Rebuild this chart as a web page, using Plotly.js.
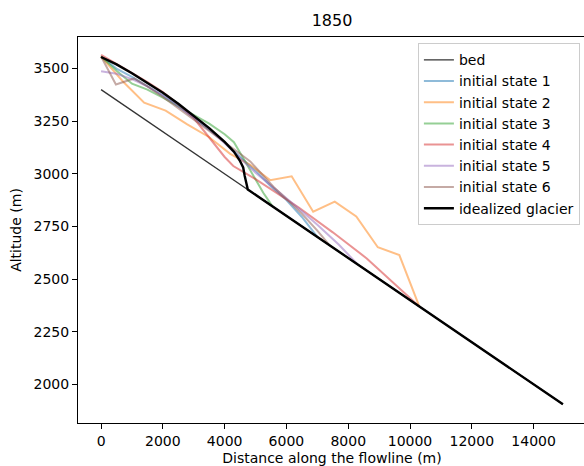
<!DOCTYPE html>
<html>
<head>
<meta charset="utf-8">
<script src="https://cdn.plot.ly/plotly-3.0.1.min.js"></script>
<style>html,body{margin:0;padding:0;overflow:hidden;background:#fff}</style>
</head>
<body>
<div id="chart"></div>
<script>
// Data (distance in m, altitude in m)
const bedX = [0, 14950];
const bedY = [3400, 1905];

const s1X = [0, 500, 1000, 1500, 2000, 2500, 3000, 3500, 4000, 4500, 5000, 5500, 6000, 6500, 7000];
const s1Y = [3557, 3500, 3460, 3418, 3372, 3322, 3268, 3210, 3150, 3080, 3015, 2940, 2875, 2795, 2700];

const s2X = [0, 700, 1394, 2090, 2790, 3490, 4180, 4828, 5472, 6169, 6866, 7564, 8261, 8958, 9655, 10300];
const s2Y = [3557, 3440, 3338, 3300, 3235, 3175, 3095, 3043, 2970, 2988, 2820, 2868, 2797, 2651, 2614, 2370];

const s3X = [0, 500, 1000, 1500, 2000, 2500, 3000, 3500, 4000, 4300, 4600, 5000, 5250, 5550];
const s3Y = [3557, 3490, 3428, 3400, 3362, 3320, 3278, 3238, 3188, 3150, 3075, 2970, 2910, 2845];

const s4X = [0, 500, 1000, 1500, 2000, 2500, 3000, 3540, 4000, 4280, 5000, 6400, 7500, 8600, 9650, 10300];
const s4Y = [3565, 3522, 3480, 3436, 3388, 3330, 3265, 3162, 3080, 3037, 2975, 2840, 2722, 2598, 2457, 2370];

const s5X = [0, 500, 1000, 1500, 2000, 2500, 3000, 3500, 4000, 4500, 5000, 5500, 6000, 6500, 7000, 7700, 8300];
const s5Y = [3487, 3475, 3450, 3415, 3372, 3322, 3268, 3210, 3145, 3075, 3005, 2945, 2885, 2822, 2758, 2663, 2570];

const s6X = [0, 480, 1070, 1500, 2000, 2500, 3000, 3500, 4000, 4500, 4830, 5200, 5600, 6000, 6500, 7000, 7400];
const s6Y = [3557, 3424, 3453, 3415, 3365, 3312, 3258, 3205, 3150, 3095, 3059, 2999, 2935, 2880, 2810, 2730, 2660];

const idX = [0, 500, 1000, 1500, 2000, 2500, 3000, 3500, 4000, 4300, 4500, 4600, 4650, 4700, 4750, 14950];
const idY = [3555, 3520, 3478, 3433, 3385, 3333, 3277, 3217, 3152, 3105, 3060, 3030, 2990, 2950, 2925, 1905];

const names = ['bed', 'initial state 1', 'initial state 2', 'initial state 3',
               'initial state 4', 'initial state 5', 'initial state 6', 'idealized glacier'];

const stateColors = ['rgba(31,119,180,0.5)', 'rgba(255,127,14,0.5)', 'rgba(44,160,44,0.5)',
                     'rgba(214,39,40,0.5)', 'rgba(148,103,189,0.5)', 'rgba(140,86,75,0.5)'];

const states = [[s1X, s1Y], [s2X, s2Y], [s3X, s3Y], [s4X, s4Y], [s5X, s5Y], [s6X, s6Y]];

const traces = [];
traces.push({x: bedX, y: bedY, mode: 'lines', name: names[0],
             line: {color: 'rgba(0,0,0,0.8)', width: 1.3}});
states.forEach((s, i) => {
  traces.push({x: s[0], y: s[1], mode: 'lines', name: names[i + 1],
               line: {color: stateColors[i], width: 2}});
});
traces.push({x: idX, y: idY, mode: 'lines', name: names[7],
             line: {color: '#000000', width: 2.4}});

const font = {family: 'DejaVu Sans, sans-serif', size: 14, color: '#000'};

const layout = {
  width: 600, height: 466,
  margin: {l: 78, r: 14, t: 37, b: 43},
  paper_bgcolor: '#fff', plot_bgcolor: '#fff',
  font: font,
  showlegend: true,
  title: {text: '1850', font: {family: 'DejaVu Sans, sans-serif', size: 16, color: '#000'},
          x: 0.5, xref: 'paper', y: 1 - 20 / 466, yref: 'container', yanchor: 'middle'},
  xaxis: {
    range: [-747, 15697], tickvals: [0, 2000, 4000, 6000, 8000, 10000, 12000, 14000],
    tickformat: 'd', showgrid: false, zeroline: false,
    showline: true, mirror: true, linecolor: '#000', linewidth: 1,
    ticks: 'outside', ticklen: 5, tickwidth: 1, tickcolor: '#000',
    title: {text: 'Distance along the flowline (m)', font: font, standoff: 5}
  },
  yaxis: {
    range: [1816, 3650], tickvals: [2000, 2250, 2500, 2750, 3000, 3250, 3500],
    tickformat: 'd', showgrid: false, zeroline: false,
    showline: true, mirror: true, linecolor: '#000', linewidth: 1,
    ticks: 'outside', ticklen: 5, tickwidth: 1, tickcolor: '#000',
    title: {text: 'Altitude (m)', font: font, standoff: 8}
  },
  legend: {
    x: 0.988, xanchor: 'right', y: 0.984, yanchor: 'top',
    bgcolor: 'rgba(255,255,255,0.8)', bordercolor: '#cccccc', borderwidth: 1,
    font: font, tracegroupgap: 0
  }
};

Plotly.newPlot('chart', traces, layout, {displayModeBar: false, staticPlot: true});
</script>
</body>
</html>
